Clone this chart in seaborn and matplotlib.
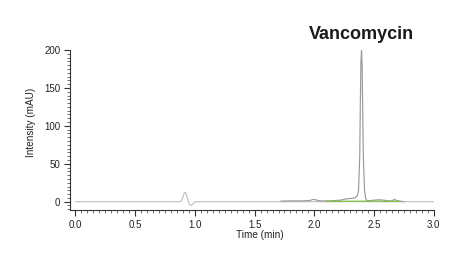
import matplotlib
matplotlib.use("Agg")
import matplotlib.pyplot as plt
from matplotlib.ticker import MultipleLocator
import seaborn as sns
import pandas as pd

# --- data ---
time_base = [0.00, 0.88, 0.89, 0.90, 0.91, 0.92, 0.93, 0.94, 0.95, 0.96, 0.97,
             0.98, 0.99, 1.00, 1.01, 1.72, 2.75, 3.00]
int_base = [0.0, 0.0, 1.5, 6.0, 11.0, 12.5, 9.0, 3.0, -2.0, -4.2, -4.8,
            -3.5, -1.5, -0.4, 0.0, 0.0, 0.0, 0.0]

time_peak = [1.72, 1.80, 1.90, 1.96, 1.99, 2.01, 2.04, 2.08, 2.15, 2.22, 2.26,
             2.29, 2.32, 2.34, 2.36, 2.37, 2.38, 2.385, 2.39, 2.395, 2.40,
             2.405, 2.41, 2.42, 2.43, 2.44, 2.46, 2.50, 2.54, 2.58, 2.62,
             2.65, 2.67, 2.69, 2.71, 2.75]
int_peak = [0.8, 1.0, 1.0, 1.5, 3.0, 2.5, 1.2, 1.0, 1.2, 2.0, 3.5,
            4.0, 4.5, 5.0, 8.0, 15.0, 60.0, 130.0, 185.0, 200.0, 180.0,
            120.0, 60.0, 15.0, 4.0, 1.5, 1.2, 2.0, 2.5, 2.0, 1.0,
            1.0, 3.0, 1.5, 0.8, 0.0]

time_green = [2.10, 2.20, 2.30, 2.40, 2.50, 2.58, 2.60, 2.64, 2.68, 2.72]
int_green = [0.3, 0.5, 0.6, 0.6, 0.7, 0.6, 0.3, 0.5, 0.6, 0.2]

x_ticks = [0.0, 0.5, 1.0, 1.5, 2.0, 2.5, 3.0]
y_ticks = [0, 50, 100, 150, 200]
peak_label = "Vancomycin"
peak_time = 2.395

sns.set_style("ticks")
plt.rcParams["font.family"] = ["Liberation Sans", "DejaVu Sans"]

fig = plt.figure(figsize=(4.70, 2.66), dpi=100)
ax = fig.add_axes([0.149, 0.2105, 0.774, 0.6015])

df_base = pd.DataFrame({"t": time_base, "i": int_base})
df_peak = pd.DataFrame({"t": time_peak, "i": int_peak})
df_green = pd.DataFrame({"t": time_green, "i": int_green})

sns.lineplot(data=df_base, x="t", y="i", ax=ax, color="#c4c4c4", linewidth=0.9)
sns.lineplot(data=df_peak, x="t", y="i", ax=ax, color="#9a9a9a", linewidth=0.85)
sns.lineplot(data=df_green, x="t", y="i", ax=ax, color="#7cc242", linewidth=0.9)

ax.set_xlim(-0.045, 3.0)
ax.set_ylim(-11, 200)
ax.set_xticks(x_ticks)
ax.set_xticklabels([f"{v:.1f}" for v in x_ticks])
ax.set_yticks(y_ticks)
ax.xaxis.set_minor_locator(MultipleLocator(0.05))
ax.yaxis.set_minor_locator(MultipleLocator(5))

for s in ["top", "right"]:
    ax.spines[s].set_visible(False)
for s in ["left", "bottom"]:
    ax.spines[s].set_linewidth(0.8)
    ax.spines[s].set_color("#333333")

ax.tick_params(axis="both", which="major", length=4.5, width=0.8, labelsize=7,
               color="#333333", labelcolor="#222222", pad=2.5)
ax.tick_params(axis="both", which="minor", length=2, width=0.6, color="#555555")

ax.set_xlabel("Time (min)", fontsize=7.2, color="#222222")
ax.set_ylabel("Intensity (mAU)", fontsize=7.2, color="#222222")
ax.xaxis.set_label_coords(0.522, -0.124)
ax.yaxis.set_label_coords(-0.093, 0.55)

ax.text(peak_time, 214, peak_label, ha="center", va="baseline",
        fontsize=13, fontweight="bold", color="#1a1a1a", clip_on=False)

fig.savefig("out.png", dpi=100)
